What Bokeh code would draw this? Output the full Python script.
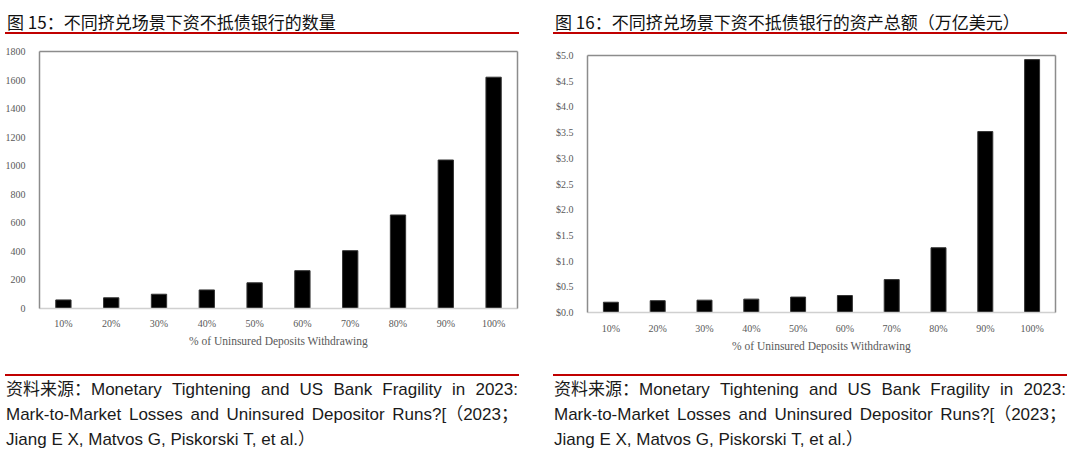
from bokeh.plotting import figure
from bokeh.models import (FactorRange, Range1d, LinearAxis, Div,
                          SingleIntervalTicker, NumeralTickFormatter, FixedTicker)
from bokeh.layouts import row, column
from bokeh.embed import file_html
from bokeh.resources import INLINE

categories = ["10%", "20%", "30%", "40%", "50%", "60%", "70%", "80%", "90%", "100%"]
bank_counts = [60, 75, 100, 130, 180, 265, 405, 655, 1040, 1620]
bank_assets = [0.20, 0.23, 0.24, 0.26, 0.30, 0.33, 0.64, 1.26, 3.52, 4.92]

title_left = "图 15：不同挤兑场景下资不抵债银行的数量"
title_right = "图 16：不同挤兑场景下资不抵债银行的资产总额（万亿美元）"
x_axis_title = "% of Uninsured Deposits Withdrawing"
# each source line as a list of chunks; a chunk is kept in one piece when justified
source_lines = [
    ["资料来源：Monetary", "Tightening", "and", "US", "Bank", "Fragility", "in", "2023:"],
    ["Mark-to-Market", "Losses", "and", "Uninsured", "Depositor", "Runs?[（2023；"],
    ["Jiang", "E", "X,", "Matvos", "G,", "Piskorski", "T,", "et", "al.）"],
]

TITLE_H = 34
FIG_H = 340
SRC_H = 463 - TITLE_H - FIG_H
SERIF = "Liberation Serif"
TICK_COLOR = "#595959"
RED = "#c00000"


def title_div(width, text, left, line_w):
    html = (f'<div style="box-sizing:border-box;margin-left:{left}px;width:{line_w}px;'
            f'padding-top:12px;height:{TITLE_H}px;line-height:20px;'
            f'border-bottom:2px solid {RED};text-spacing-trim:space-all;'
            f'font-family:\'Noto Sans CJK SC\',sans-serif;font-size:17px;color:#111;'
            f'white-space:nowrap;padding-left:2px;">{text}</div>')
    return Div(text=html, width=width, height=TITLE_H, margin=0)


def source_div(width, left, line_w):
    parts = []
    for i, chunks in enumerate(source_lines):
        last = i == len(source_lines) - 1
        align = "left" if last else "justify"
        words = " ".join(f'<span style="display:inline-block;white-space:nowrap;">{c}</span>'
                         for c in chunks)
        parts.append(f'<div style="text-align:{align};text-align-last:{align};'
                     f'white-space:normal;height:25px;line-height:25px;">{words}</div>')
    html = (f'<div style="box-sizing:border-box;margin-left:{left}px;width:{line_w}px;'
            f'border-top:2px solid {RED};padding:1px 1px 0 1px;text-spacing-trim:space-all;'
            f'font-family:\'Liberation Sans\',\'Noto Sans CJK SC\',sans-serif;'
            f'font-size:17px;color:#1a1a1a;">' + "".join(parts) + '</div>')
    return Div(text=html, width=width, height=SRC_H, margin=0)


def make_fig(width, frame_left, frame_right, frame_top, frame_bottom, values,
             y_max, y_step, fmt, tick_standoff, label_standoff):
    p = figure(width=width, height=FIG_H, x_range=FactorRange(*categories, range_padding=0),
               y_range=Range1d(0, y_max), output_backend="svg", toolbar_location=None,
               min_border_left=frame_left, min_border_right=width - frame_right,
               min_border_top=frame_top - TITLE_H,
               min_border_bottom=TITLE_H + FIG_H - frame_bottom)
    p.vbar(x=categories, top=values, width=0.32, fill_color="black", line_color="#333333")
    p.grid.visible = False
    p.outline_line_color = None
    p.background_fill_color = "white"
    p.border_fill_color = "white"

    yax = p.yaxis[0]
    yax.ticker = SingleIntervalTicker(interval=y_step)
    if fmt:
        yax.formatter = NumeralTickFormatter(format=fmt)
    yax.major_tick_line_color = None
    yax.minor_tick_line_color = None
    yax.axis_line_color = "#8c8c8c"
    yax.axis_line_width = 1.5
    yax.major_label_text_font = SERIF
    yax.major_label_text_font_size = "10px"
    yax.major_label_text_color = TICK_COLOR
    yax.major_label_standoff = 8

    xax = p.xaxis[0]
    xax.major_tick_line_color = None
    xax.minor_tick_line_color = None
    xax.axis_line_color = "#d0d0d0"
    xax.axis_line_width = 1.5
    xax.major_label_text_font = SERIF
    xax.major_label_text_font_size = "10px"
    xax.major_label_text_color = TICK_COLOR
    xax.major_label_standoff = tick_standoff
    xax.axis_label = x_axis_title
    xax.axis_label_text_font = SERIF
    xax.axis_label_text_font_size = "11.5px"
    xax.axis_label_text_font_style = "normal"
    xax.axis_label_text_color = TICK_COLOR
    xax.axis_label_standoff = label_standoff

    for side in ("above", "right"):
        ax = LinearAxis(ticker=FixedTicker(ticks=[]), axis_line_color="#8c8c8c",
                        axis_line_width=1.5, major_tick_line_color=None,
                        minor_tick_line_color=None, major_label_text_font_size="0px")
        p.add_layout(ax, side)
    return p


LW, RW = 544, 536
left_fig = make_fig(LW, 39, 517, 51, 308, bank_counts, 1800, 200, None, 3, 3)
right_fig = make_fig(RW, 43, 511, 55, 312, bank_assets, 5.0, 0.5, "$0.0", 4, 3)

left_col = column(title_div(LW, title_left, 5, 514), left_fig, source_div(LW, 5, 514),
                  spacing=0)
right_col = column(title_div(RW, title_right, 9, 514), right_fig, source_div(RW, 9, 514),
                   spacing=0)
layout = row(left_col, right_col, spacing=0)
open("out.html", "w").write(file_html(layout, INLINE))
